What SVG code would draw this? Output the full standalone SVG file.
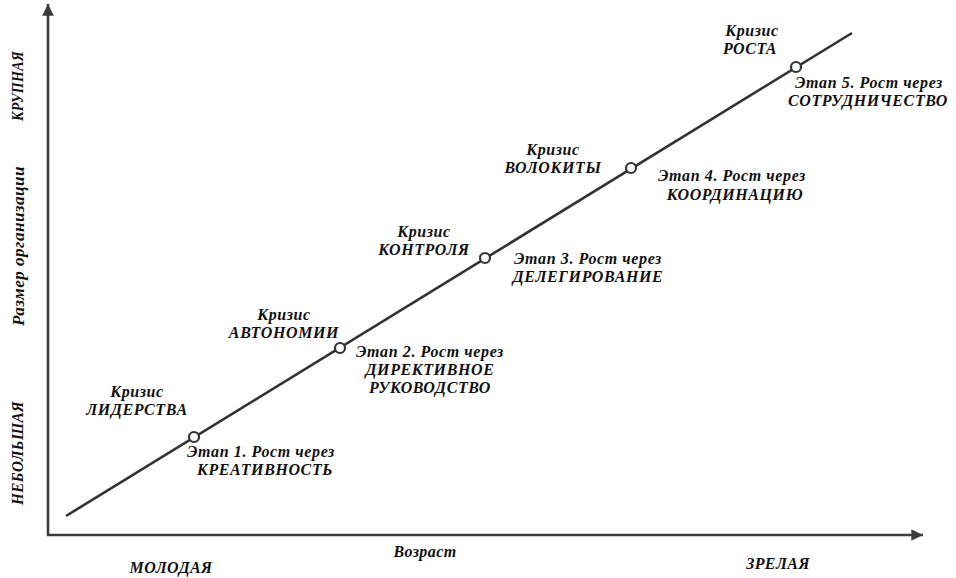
<svg xmlns="http://www.w3.org/2000/svg" width="956" height="578" viewBox="0 0 956 578">
<style>
text{font-family:"Liberation Serif","Times New Roman",serif;font-weight:bold;font-style:italic;font-size:16px;fill:#111;text-anchor:middle;letter-spacing:0.6px}
.ax{font-size:16px;letter-spacing:0.4px}
.axis{stroke:#3c3c3c;stroke-width:2.6;fill:none}
.curve{stroke:#333;stroke-width:2.6;fill:none}
.pt{fill:#fff;stroke:#333;stroke-width:2.2}
</style>
<defs>
<marker id="arr" viewBox="0 0 10 10" refX="10" refY="5" markerWidth="7" markerHeight="4.5" markerUnits="strokeWidth" orient="auto">
<path d="M0,0 L10,5 L0,10 z" fill="#3c3c3c"/>
</marker>
</defs>
<rect width="956" height="578" fill="#fff"/>
<g id="axes">
<path class="axis" d="M48,535 L48,4" marker-end="url(#arr)"/>
<path class="axis" d="M47,535 L923,535" marker-end="url(#arr)"/>
</g>
<g id="axis-labels">
<text class="ax" transform="translate(23,86) rotate(-90)" textLength="70" lengthAdjust="spacingAndGlyphs">КРУПНАЯ</text>
<text class="ax" transform="translate(24,246) rotate(-90)" textLength="160" lengthAdjust="spacingAndGlyphs">Размер организации</text>
<text class="ax" transform="translate(23,453) rotate(-90)" textLength="104" lengthAdjust="spacingAndGlyphs">НЕБОЛЬШАЯ</text>
<text class="ax" x="171" y="573">МОЛОДАЯ</text>
<text class="ax" x="425" y="557">Возраст</text>
<text class="ax" x="778" y="569">ЗРЕЛАЯ</text>
</g>
<g id="connectors">
<path class="curve" d="M66,516 L852,33"/>
</g>
<g id="stage1">
<circle class="pt" cx="194" cy="437" r="5"/>
<text x="137" y="397">Кризис</text>
<text x="137" y="415">ЛИДЕРСТВА</text>
<text x="261" y="457">Этап 1. Рост через</text>
<text x="265" y="475">КРЕАТИВНОСТЬ</text>
</g>
<g id="stage2">
<circle class="pt" cx="340" cy="348" r="5"/>
<text x="284" y="320">Кризис</text>
<text x="284" y="338">АВТОНОМИИ</text>
<text x="430" y="357">Этап 2. Рост через</text>
<text x="430" y="375">ДИРЕКТИВНОЕ</text>
<text x="430" y="393">РУКОВОДСТВО</text>
</g>
<g id="stage3">
<circle class="pt" cx="485" cy="258" r="5"/>
<text x="424" y="237">Кризис</text>
<text x="424" y="255">КОНТРОЛЯ</text>
<text x="588" y="264">Этап 3. Рост через</text>
<text x="588" y="282">ДЕЛЕГИРОВАНИЕ</text>
</g>
<g id="stage4">
<circle class="pt" cx="631" cy="168" r="5"/>
<text x="553" y="155">Кризис</text>
<text x="553" y="173">ВОЛОКИТЫ</text>
<text x="732" y="181">Этап 4. Рост через</text>
<text x="735" y="200">КООРДИНАЦИЮ</text>
</g>
<g id="stage5">
<circle class="pt" cx="796" cy="67" r="5"/>
<text x="752" y="36">Кризис</text>
<text x="750" y="54">РОСТА</text>
<text x="869" y="88">Этап 5. Рост через</text>
<text x="868" y="106">СОТРУДНИЧЕСТВО</text>
</g>
</svg>
